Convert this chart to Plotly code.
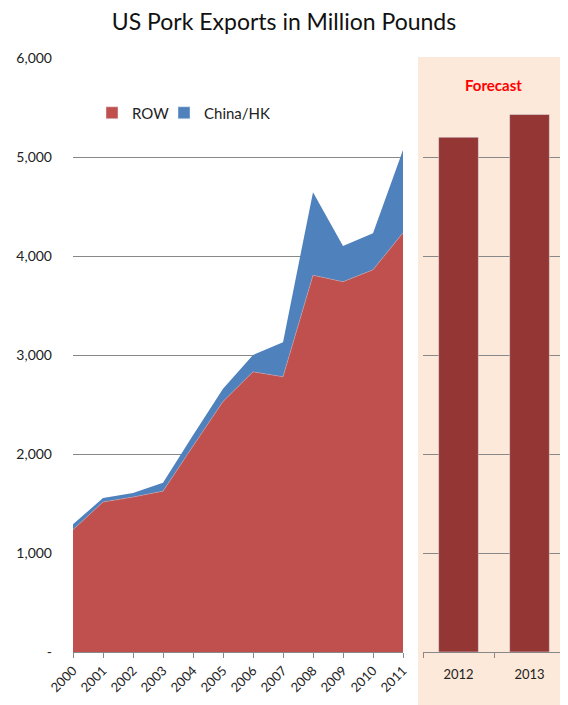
import plotly.graph_objects as go

# Historic exports (million pounds)
years = [2000, 2001, 2002, 2003, 2004, 2005, 2006, 2007, 2008, 2009, 2010, 2011]
row = [1235, 1515, 1565, 1625, 2080, 2530, 2830, 2780, 3805, 3740, 3860, 4235]
total = [1290, 1555, 1605, 1710, 2190, 2660, 3000, 3130, 4645, 4100, 4230, 5070]
china_hk = [t - r for t, r in zip(total, row)]

# Forecast
fc_years = ["2012", "2013"]
fc_values = [5200, 5430]

y_ticks = [0, 1000, 2000, 3000, 4000, 5000, 6000]
y_labels = ["-", "1,000", "2,000", "3,000", "4,000", "5,000", "6,000"]

ROW_RED = '#C0504D'
CHINA_BLUE = '#4F81BD'
FC_RED = '#943634'
PANEL = '#FDE9D9'
GRID = '#888888'
# page has an 8px body margin, so the figure is a bit smaller than the window
OFF = 8
W, H = 560, 697

def px_x(v):
    return (v - OFF) / W

def px_y(v):
    return (H - (v - OFF)) / H

fig = go.Figure()
fig.add_trace(go.Scatter(x=years, y=row, name='ROW', stackgroup='one',
                         mode='lines', line=dict(width=0.5, color='#d9a3a2'),
                         fillcolor=ROW_RED, showlegend=False))
fig.add_trace(go.Scatter(x=years, y=china_hk, name='China/HK', stackgroup='one',
                         mode='lines', line=dict(width=0, color=CHINA_BLUE),
                         fillcolor=CHINA_BLUE, showlegend=False))
fig.add_trace(go.Bar(x=fc_years, y=fc_values, xaxis='x2', yaxis='y2',
                     marker=dict(color=FC_RED), width=0.56, showlegend=False))

# legend entries with square swatches (Excel style), one legend each for tight spacing
for name, col, leg in [('ROW', ROW_RED, 'legend'), ('China/HK', CHINA_BLUE, 'legend2')]:
    fig.add_trace(go.Bar(x=[None], y=[None], name=name, marker=dict(color=col),
                         xaxis='x3', yaxis='y3', legend=leg))

# forecast panel background
fig.add_shape(type='rect', xref='paper', yref='paper', layer='below',
              x0=px_x(418), x1=px_x(567), y0=0, y1=px_y(57),
              fillcolor=PANEL, line=dict(width=0))

fig.add_annotation(text='<b>Forecast</b>', xref='paper', yref='paper',
                   x=px_x(493), y=px_y(85), xanchor='center', yanchor='middle',
                   showarrow=False, font=dict(color='#FF0000', size=15))

leg_style = dict(orientation='h', yanchor='middle', xanchor='left',
                 font=dict(size=15), bgcolor='rgba(0,0,0,0)', itemwidth=30)

fig.update_layout(
    width=W, height=H,
    margin=dict(l=0, r=0, t=0, b=0),
    paper_bgcolor='white', plot_bgcolor='rgba(0,0,0,0)',
    font=dict(family='Lato, sans-serif', color='#222222'),
    title=dict(text='US Pork Exports in Million Pounds', x=px_x(284), xanchor='center',
               y=px_y(22), yanchor='middle', font=dict(size=23, color='#111111')),
    legend=dict(x=px_x(92), y=px_y(113), **leg_style),
    legend2=dict(x=px_x(164), y=px_y(113), **leg_style),
    xaxis=dict(domain=[px_x(73), px_x(403)], range=[2000, 2011], automargin=False,
               tickvals=years, ticktext=[str(y) for y in years], tickangle=-45,
               ticks='outside', ticklen=5, tickcolor=GRID, showline=True,
               linecolor=GRID, showgrid=False, zeroline=False,
               tickfont=dict(size=13)),
    yaxis=dict(domain=[px_y(652), px_y(58)], range=[0, 6000], automargin=False,
               tickvals=y_ticks, ticktext=y_labels, showgrid=True,
               gridcolor=GRID, gridwidth=1, zeroline=False, showline=False,
               ticklabelstandoff=20, tickfont=dict(size=14)),
    xaxis2=dict(domain=[px_x(423), px_x(565)], anchor='y2', type='category',
                range=[-0.5, 1.5], tickson='boundaries', ticks='outside',
                automargin=False,
                ticklen=5, tickcolor=GRID, showline=True, linecolor=GRID,
                showgrid=False, tickfont=dict(size=13), ticklabelstandoff=10),
    yaxis2=dict(domain=[px_y(652), px_y(58)], anchor='x2', range=[0, 6000],
                automargin=False,
                tickvals=y_ticks, showticklabels=False, showgrid=True,
                gridcolor=GRID, gridwidth=1, zeroline=False),
    xaxis3=dict(domain=[0, 0.01], anchor='y3', visible=False),
    yaxis3=dict(domain=[0, 0.01], anchor='x3', visible=False),
    bargap=0.44,
)

fig.write_html("out.html")
